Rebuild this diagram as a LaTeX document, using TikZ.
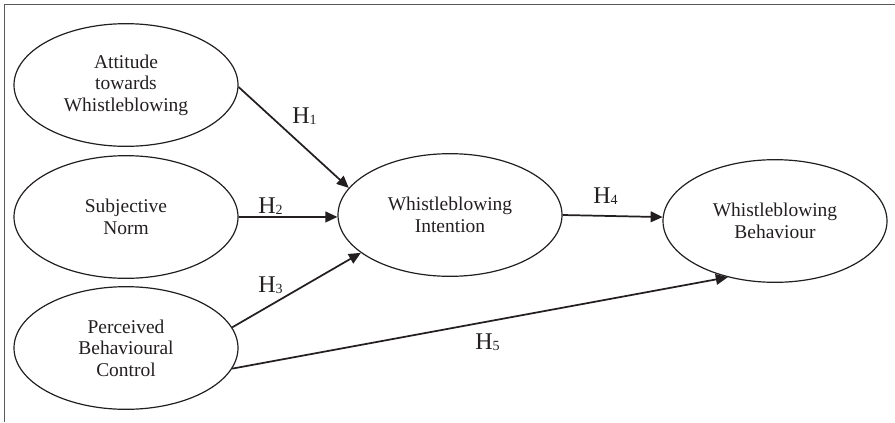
\documentclass[tikz,border=0pt]{standalone}
\usepackage{fontspec}
\setmainfont{Liberation Serif}
\usetikzlibrary{arrows.meta,shapes.geometric}
\definecolor{ink}{HTML}{231F20}
\definecolor{framec}{HTML}{5A5A5A}
\newcommand{\hyp}[1]{H\raisebox{-1.4pt}{\fontsize{10.5}{12}\selectfont #1}}
\begin{document}
\begin{tikzpicture}[x=0.75pt,y=-0.75pt,
  construct/.style={draw=ink,line width=0.9pt,ellipse,minimum width=168pt,minimum height=92pt,inner sep=0pt,
    align=center,text=ink,font=\fontsize{14.6}{16.2}\selectfont},
  hyparrow/.style={draw=ink,line width=1.3pt,-{Triangle[length=9pt,width=8pt]}},
  hlab/.style={text=ink,font=\fontsize{18}{20}\selectfont,inner sep=0pt,anchor=base west}]
\useasboundingbox (0,0) rectangle (895,422);
\draw[framec,line width=0.8pt] (4.5,422) -- (4.5,4.5) -- (895,4.5);
\node[construct] (att) at (126,85) {Attitude\\towards\\Whistleblowing};
\node[construct] (sub) at (126,217) {Subjective\\Norm};
\node[construct] (pbc) at (126,348) {Perceived\\Behavioural\\Control};
\node[construct] (int) at (450,215) {Whistleblowing\\Intention};
\node[construct] (beh) at (775,221) {Whistleblowing\\Behaviour};
\draw[hyparrow] (att.-1) -- (int.165);
\draw[hyparrow] (sub.east) -- (int.181);
\draw[hyparrow] (pbc.11) -- (int.203);
\draw[hyparrow] (int.east) -- (beh.178);
\draw[hyparrow] (pbc.-11) -- (beh.230);
\node[hlab] (h1) at (292,123) {\hyp{1}};
\node[hlab] (h2) at (258,213) {\hyp{2}};
\node[hlab] (h3) at (258,292) {\hyp{3}};
\node[hlab] (h4) at (593,203) {\hyp{4}};
\node[hlab] (h5) at (475,349) {\hyp{5}};
\end{tikzpicture}
\end{document}
